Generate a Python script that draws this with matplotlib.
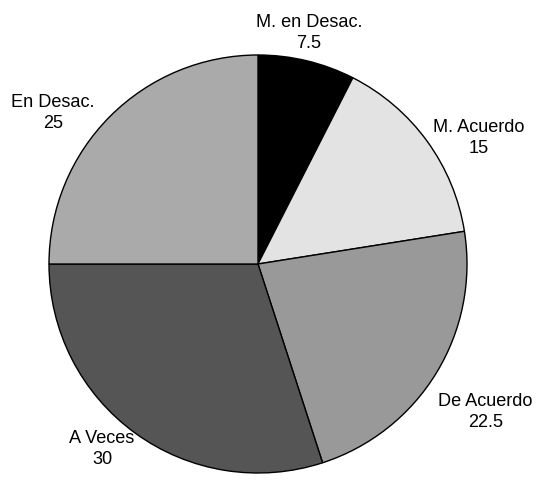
import matplotlib
matplotlib.use("Agg")
import matplotlib.pyplot as plt

categories = ["M. en Desac.", "M. Acuerdo", "De Acuerdo", "A Veces", "En Desac."]
values = [7.5, 15, 22.5, 30, 25]
colors = ["#000000", "#e3e3e3", "#999999", "#555555", "#aaaaaa"]

# label anchor points (in units of the pie radius)
label_pos = [(0.244, 1.109), (1.057, 0.608), (1.089, -0.703), (-0.746, -0.880), (-0.981, 0.727)]

fig = plt.figure(figsize=(5.37, 4.85), dpi=100)
ax = fig.add_axes([0, 0, 1, 1])
ax.pie(values, colors=colors, startangle=90, counterclock=False,
       wedgeprops=dict(edgecolor="black", linewidth=1.0))

for name, val, (x, y) in zip(categories, values, label_pos):
    ax.text(x, y, f"{name}\n{val:g}", ha="center", va="center",
            fontsize=13.1, family="Liberation Sans", linespacing=1.35)

ax.set_xlim(-258 / 209, (537 - 258) / 209)
ax.set_ylim(-(485 - 265) / 209, 265 / 209)
ax.set_aspect("auto")
ax.axis("off")
fig.savefig("out.png", dpi=100)
